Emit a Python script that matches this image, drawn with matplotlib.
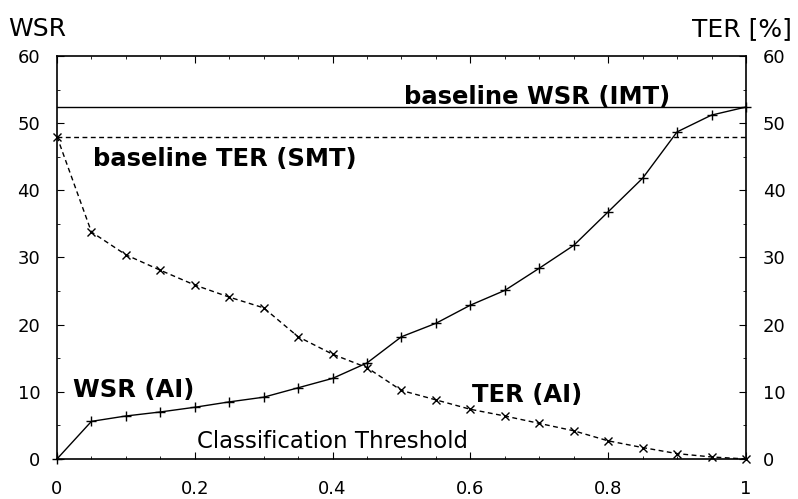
import numpy as np
import matplotlib.pyplot as plt
from matplotlib.ticker import MultipleLocator

threshold = [0.0, 0.05, 0.1, 0.15, 0.2, 0.25, 0.3, 0.35, 0.4, 0.45, 0.5,
             0.55, 0.6, 0.65, 0.7, 0.75, 0.8, 0.85, 0.9, 0.95, 1.0]
wsr_ai = [0.0, 5.6, 6.4, 7.0, 7.7, 8.5, 9.2, 10.6, 12.0, 14.3, 18.2,
          20.2, 22.9, 25.1, 28.4, 31.8, 36.8, 41.8, 48.7, 51.2, 52.4]
ter_ai = [48.0, 33.8, 30.4, 28.1, 25.9, 24.1, 22.5, 18.2, 15.6, 13.6, 10.2,
          8.8, 7.4, 6.4, 5.3, 4.2, 2.7, 1.7, 0.8, 0.3, 0.0]
baseline_wsr = 52.4
baseline_ter = 48.0

plt.rcParams['font.family'] = 'DejaVu Sans'
fig = plt.figure(figsize=(7.98, 4.99), dpi=100)
ax = fig.add_axes([0.0714, 0.0802, 0.8634, 0.8076])

dash = (0, (3.5, 2.5))
ax.axhline(baseline_wsr, color='black', lw=1.0)
ax.axhline(baseline_ter, color='black', lw=1.0, ls=dash)
ax.plot(threshold, wsr_ai, color='black', lw=1.0, marker='+', ms=7, mew=1.0, clip_on=False)
ax.plot(threshold, ter_ai, color='black', lw=1.0, ls=dash, marker='x', ms=6, mew=1.0, clip_on=False)

ax.set_xlim(0, 1)
ax.set_ylim(0, 60)
ax.xaxis.set_minor_locator(MultipleLocator(0.05))
ax.yaxis.set_major_locator(MultipleLocator(10))
ax.yaxis.set_minor_locator(MultipleLocator(5))
ax.set_xticks([0, 0.2, 0.4, 0.6, 0.8, 1.0], ['0', '0.2', '0.4', '0.6', '0.8', '1'])
ax.tick_params(which='both', direction='in', top=True, right=True, labelright=True,
               labelsize=13)
ax.tick_params(axis='x', which='major', pad=15)
ax.tick_params(axis='y', which='major', pad=12)
ax.tick_params(which='major', length=5)
ax.tick_params(which='minor', length=2.5)
for lbl in ax.get_yticklabels(which='major'):
    pass
ax.yaxis.set_tick_params(which='major', pad=12)
for t in ax.yaxis.get_major_ticks():
    t.label2.set_x(1.0)
    t.set_pad(12)
for s in ax.spines.values():
    s.set_linewidth(1.2)

fig.text(0.010, 0.928, 'WSR', fontsize=18, ha='left', va='baseline')
fig.text(0.9925, 0.928, 'TER [%]', fontsize=18, ha='right', va='baseline')

bold = dict(fontsize=17.5, fontweight='bold', ha='left', va='baseline')
ax.text(0.503, 52.9, 'baseline WSR (IMT)', **bold)
ax.text(0.0527, 43.6, 'baseline TER (SMT)', **bold)
ax.text(0.0237, 9.3, 'WSR (AI)', **bold)
ax.text(0.602, 8.5, 'TER (AI)', **bold)
ax.text(0.2027, 1.6, 'Classification Threshold', fontsize=16.5, ha='left', va='baseline')

fig.savefig('out.png', dpi=100)
